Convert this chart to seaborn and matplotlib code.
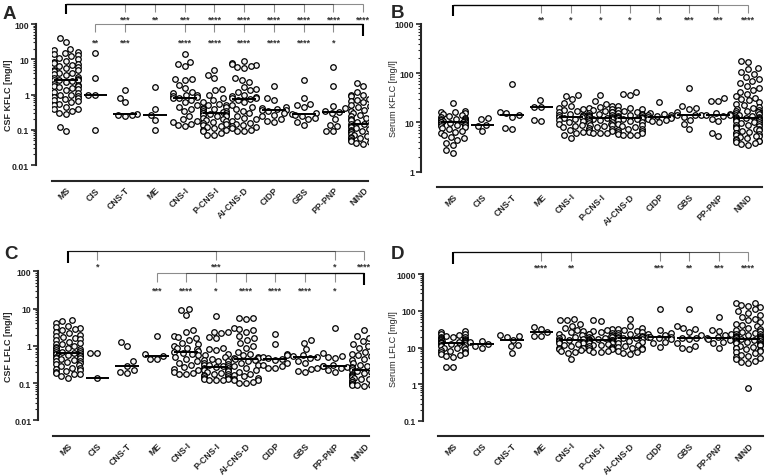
import warnings
warnings.filterwarnings('ignore')
import numpy as np
import pandas as pd
import matplotlib
matplotlib.use('Agg')
import matplotlib.pyplot as plt
import matplotlib.transforms as mtransforms
from matplotlib.ticker import LogLocator, NullFormatter
import seaborn as sns

# ---------------- data ----------------
categories = ['MS', 'CIS', 'CNS-T', 'ME', 'CNS-I', 'P-CNS-I', 'AI-CNS-D',
              'CIDP', 'GBS', 'PP-PNP', 'NIND']

# Panel A: CSF KFLC [mg/l]
A_MS = [40, 30, 20, 18, 16, 15, 14, 13, 12, 11, 10, 9, 8.5, 8, 7.5, 7, 6.5, 6, 5.5, 5,
        4.8, 4.5, 4.2, 4, 3.7, 3.5, 3.2, 3, 2.8, 2.6, 2.5, 2.5, 2.4, 2.2, 2, 1.9, 1.8, 1.7,
        1.6, 1.5, 1.4, 1.3, 1.2, 1.1, 1.0, 0.95, 0.9, 0.85, 0.8, 0.75, 0.7, 0.65, 0.6,
        0.55, 0.5, 0.45, 0.4, 0.4, 0.35, 0.3, 0.28, 0.12, 0.09]
A_CIS = [15, 3, 1.0, 1.0, 0.1]
A_CNST = [1.35, 0.8, 0.6, 0.28, 0.27, 0.26, 0.25]
A_ME = [1.6, 0.38, 0.27, 0.19, 0.1]
A_CNSI = [14, 8.5, 7.5, 6.5, 2.8, 2.7, 2.6, 1.9, 1.5, 1.2, 1.1, 1.0, 0.95, 0.9, 0.85, 0.82,
          0.8, 0.7, 0.6, 0.5, 0.45, 0.4, 0.35, 0.25, 0.2, 0.18, 0.17, 0.15, 0.14, 0.13]
A_PCNSI = [5, 3.5, 3, 1.4, 1.3, 1.0, 0.8, 0.7, 0.6, 0.55, 0.5, 0.5, 0.45, 0.42, 0.4, 0.38,
           0.35, 0.33, 0.32, 0.3, 0.3, 0.29, 0.28, 0.27, 0.26, 0.25, 0.24, 0.22, 0.2, 0.19,
           0.18, 0.17, 0.16, 0.15, 0.14, 0.13, 0.12, 0.11, 0.1, 0.1, 0.09, 0.08, 0.07, 0.07]
A_AICNSD = [9, 8, 7.5, 7, 6.5, 6, 5.5, 3, 2.5, 2.2, 1.6, 1.4, 1.3, 1.2, 1.0, 0.9, 0.85,
            0.8, 0.78, 0.76, 0.7, 0.6, 0.5, 0.45, 0.4, 0.35, 0.3, 0.25, 0.22, 0.2, 0.18,
            0.16, 0.15, 0.14, 0.13, 0.12, 0.11, 0.1, 0.09, 0.09]
A_CIDP = [1.75, 0.8, 0.7, 0.45, 0.42, 0.4, 0.37, 0.36, 0.34, 0.3, 0.27, 0.25, 0.2, 0.18, 0.17]
A_GBS = [2.5, 0.78, 0.55, 0.5, 0.45, 0.3, 0.28, 0.27, 0.25, 0.22, 0.2, 0.17, 0.14]
A_PPPNP = [6, 1.75, 0.48, 0.42, 0.33, 0.32, 0.3, 0.2, 0.14, 0.13, 0.09, 0.09]
A_NIND = [2.1, 1.8, 1.3, 1.2, 1.1, 1.0, 0.95, 0.9, 0.8, 0.75, 0.7, 0.65, 0.6, 0.55, 0.5,
          0.47, 0.44, 0.4, 0.37, 0.34, 0.32, 0.3, 0.28, 0.26, 0.24, 0.22, 0.21, 0.2, 0.19,
          0.18, 0.17, 0.16, 0.15, 0.145, 0.14, 0.135, 0.13, 0.125, 0.12, 0.115, 0.11, 0.105,
          0.1, 0.097, 0.094, 0.09, 0.087, 0.084, 0.08, 0.077, 0.074, 0.071, 0.068, 0.065,
          0.062, 0.06, 0.058, 0.055, 0.053, 0.05, 0.048, 0.046, 0.044, 0.042, 0.04]
A_medians = [2.5, 1.0, 0.28, 0.27, 0.82, 0.29, 0.76, 0.36, 0.28, 0.32, 0.15]

# Panel B: Serum KFLC [mg/l]
B_MS = [25, 17, 16.5, 16, 15.5, 15, 14, 13.5, 13, 12.5, 12, 12, 11.5, 11, 11, 10.8, 10.5,
        10.3, 10.2, 10.1, 10, 9.8, 9.5, 9.2, 9, 8.7, 8.4, 8, 7.6, 7.2, 6.8, 6.4, 6, 5.5,
        5, 4.8, 4.5, 3.8, 3.5, 2.7, 2.4]
B_CIS = [12.6, 11.5, 8.9, 8.6, 6.7]
B_CNST = [60, 16.4, 15.5, 14.3, 13.2, 7.8, 7.3]
B_ME = [28, 21, 20.5, 11, 10.8]
B_CNSI = [36, 35, 30, 25, 22, 20, 19, 18, 17, 16, 15, 14.5, 14, 13.5, 13.2, 13, 12.5, 12,
          11, 10.5, 10, 9.5, 9, 8.5, 8, 7, 6.5, 6, 5.5, 4.8]
B_PCNSI = [36, 27, 24, 22, 21, 20, 19, 18, 17, 16.5, 16, 15.5, 15, 14.5, 14, 13.5, 13, 12.8,
           12.5, 12.2, 12, 11.8, 11.5, 11, 10.5, 10, 9.8, 9.5, 9, 8.7, 8.4, 8, 7.7, 7.4, 7,
           6.8, 6.5, 6.2, 6, 6]
B_AICNSD = [42, 37, 36, 22, 20, 19, 18, 17, 16, 15.5, 15, 14.5, 14, 13.5, 13, 12.8, 12.6,
            12.4, 12.3, 12.2, 12.1, 12, 11.5, 11, 10.5, 10, 9.5, 9, 8.5, 8, 7.5, 7.2, 7, 6.6,
            6.3, 6, 5.8, 5.6, 5.5, 5.5]
B_CIDP = [26, 15.5, 15, 14.5, 14, 13.5, 13.2, 13, 12.5, 12, 11, 10.5, 10]
B_GBS = [50, 22, 20, 19, 16, 14.5, 14.1, 14, 13, 11, 9.3, 7.4]
B_PPPNP = [32, 27, 27, 15.5, 15, 14.5, 14, 13.5, 12, 10.5, 6, 5.3]
B_NIND = [175, 170, 125, 120, 105, 95, 85, 75, 70, 62, 56, 50, 46, 42, 38, 35, 32, 30, 28,
          26, 24, 22.5, 21, 20, 19, 18, 17.5, 17, 16.5, 16, 15.5, 15, 14.5, 14, 13.5, 13,
          12.8, 12.6, 12.4, 12.2, 12, 11.7, 11.4, 11, 10.7, 10.4, 10, 9.7, 9.4, 9, 8.7, 8.4,
          8.1, 7.8, 7.5, 7.2, 7, 6.8, 6.5, 6.2, 6, 5.8, 5.6, 5.4, 5.2, 5, 4.8, 4.6, 4.4, 4.3,
          4.2, 4, 3.8, 3.6, 3.5]
B_medians = [10, 8.9, 14.3, 20.5, 13.2, 12.1, 12.2, 13.2, 14.1, 14.1, 12.6]

# Panel C: CSF LFLC [mg/l]
C_MS = [4.8, 4.6, 4, 3.5, 3.2, 3, 2.8, 2.6, 2.4, 2.2, 2, 1.8, 1.7, 1.6, 1.5, 1.4, 1.3, 1.2,
        1.15, 1.1, 1.0, 0.95, 0.9, 0.85, 0.8, 0.76, 0.73, 0.7, 0.68, 0.66, 0.64, 0.62, 0.6,
        0.57, 0.55, 0.52, 0.5, 0.48, 0.46, 0.44, 0.42, 0.4, 0.38, 0.36, 0.34, 0.32, 0.3,
        0.28, 0.26, 0.25, 0.24, 0.22, 0.21, 0.2, 0.19, 0.18, 0.17, 0.15, 0.14]
C_CIS = [0.65, 0.64, 0.14]
C_CNST = [1.3, 1.0, 0.38, 0.29, 0.22, 0.2, 0.19]
C_ME = [1.8, 0.6, 0.54, 0.45, 0.44]
C_CNSI = [10, 9, 6.8, 2.7, 2.4, 1.8, 1.7, 1.6, 1.4, 1.2, 1.1, 1.0, 0.9, 0.85, 0.8, 0.72, 0.7,
          0.65, 0.6, 0.55, 0.5, 0.45, 0.4, 0.35, 0.3, 0.27, 0.24, 0.22, 0.2, 0.19, 0.18, 0.18]
C_PCNSI = [6.2, 2.4, 2.3, 2.2, 1.7, 1.6, 0.85, 0.8, 0.75, 0.6, 0.55, 0.5, 0.45, 0.42, 0.4,
           0.38, 0.35, 0.33, 0.31, 0.3, 0.29, 0.28, 0.27, 0.26, 0.25, 0.24, 0.23, 0.22, 0.21,
           0.2, 0.19, 0.18, 0.17, 0.16, 0.15, 0.15, 0.14, 0.14, 0.13, 0.13, 0.12, 0.12, 0.12]
C_AICNSD = [5.7, 5.5, 5.3, 3, 2.8, 2.6, 2.4, 1.8, 1.6, 1.4, 1.2, 1.0, 0.9, 0.7, 0.6, 0.55,
            0.5, 0.48, 0.46, 0.44, 0.42, 0.4, 0.35, 0.3, 0.28, 0.25, 0.22, 0.2, 0.18, 0.16,
            0.15, 0.14, 0.13, 0.12, 0.12, 0.11, 0.1, 0.1]
C_CIDP = [2.1, 1.1, 0.6, 0.58, 0.5, 0.46, 0.44, 0.42, 0.35, 0.3, 0.28, 0.26, 0.25]
C_GBS = [1.4, 1.2, 0.8, 0.55, 0.52, 0.5, 0.48, 0.4, 0.35, 0.25, 0.24, 0.21, 0.2]
C_PPPNP = [3, 0.65, 0.52, 0.5, 0.48, 0.3, 0.29, 0.28, 0.27, 0.25, 0.22, 0.2]
C_NIND = [2.6, 2, 1.8, 1.6, 1.5, 1.35, 1.2, 1.1, 1.0, 0.9, 0.82, 0.75, 0.68, 0.62, 0.56,
          0.52, 0.48, 0.44, 0.41, 0.38, 0.35, 0.33, 0.31, 0.29, 0.28, 0.27, 0.26, 0.25, 0.24,
          0.23, 0.21, 0.205, 0.2, 0.19, 0.18, 0.175, 0.17, 0.165, 0.16, 0.155, 0.15, 0.145,
          0.14, 0.135, 0.13, 0.125, 0.12, 0.115, 0.11, 0.107, 0.104, 0.1, 0.097, 0.095,
          0.093, 0.09, 0.088, 0.087, 0.086, 0.085]
C_medians = [0.66, 0.14, 0.29, 0.54, 0.7, 0.27, 0.44, 0.44, 0.5, 0.29, 0.22]

# Panel D: Serum LFLC [mg/l]
D_MS = [28, 26, 24, 23, 22, 21, 20, 19.5, 19, 18, 17.5, 17, 16.5, 16, 15.5, 15, 14.8, 14.6,
        14.4, 14.2, 14, 13.8, 13.7, 13.5, 13.2, 13, 12.5, 12, 11.5, 11, 10.5, 10, 9.5, 9,
        8.6, 8.2, 7.8, 7.4, 7, 6.6, 6.2, 5.8, 5.5, 3, 2.9]
D_CIS = [15.5, 14, 12.5, 11, 10]
D_CNST = [22, 21, 20, 16.5, 12, 11, 7.2]
D_ME = [37, 33, 27, 21, 20.5]
D_CNSI = [60, 57, 55, 45, 40, 35, 30, 28, 26, 24, 22, 20, 19, 18, 17, 16.5, 16, 15, 14, 13.5,
          13, 12.5, 12, 11, 10, 9.5, 9, 8.5, 8, 7.5, 7, 4.8]
D_PCNSI = [55, 54, 32, 30, 28, 26, 25, 24, 23, 22, 21, 20, 19, 18.5, 18, 17.5, 17, 16.5,
           16.3, 16.2, 16, 15.5, 15, 14.5, 14, 13.5, 13, 12.5, 12, 11.5, 11, 10.5, 10, 9.5,
           9, 8.5, 8, 7.8, 7.5]
D_AICNSD = [62, 38, 35, 32, 30, 28, 27, 25, 24, 22, 21, 20, 19.5, 19, 18.7, 18.5, 18, 17,
            16, 15, 14, 13, 12, 11, 10.5, 10, 9.5, 9, 8, 7.5, 7, 6.6]
D_CIDP = [115, 30, 25, 24, 22, 20, 19.5, 19, 18, 17, 14, 13, 10.5]
D_GBS = [110, 38, 34, 33, 27, 22, 18.7, 18, 17, 13, 11, 10, 9]
D_PPPNP = [68, 30, 29, 24, 22, 19, 18, 17.5, 16, 14, 13, 10]
D_NIND = [170, 160, 150, 140, 125, 110, 100, 90, 80, 70, 62, 56, 50, 45, 41, 38, 35, 32, 30,
          28, 26, 25, 24, 23, 22, 21, 20.5, 20, 19.5, 19, 18.5, 18, 17.6, 17.2, 16.8, 16.4,
          16, 15.6, 15.2, 14.8, 14.4, 14, 13.5, 13, 12.5, 12, 11.5, 11, 10.5, 10, 9.5, 9,
          8.5, 8, 7.5, 7, 6.5, 6, 5.6, 5.2, 4.8, 4.4, 4, 3.8, 0.8]
D_medians = [13.7, 12.8, 16.5, 27, 16.5, 16.2, 18.7, 19.5, 18.7, 18, 17.6]

# tick labels
A_yticks = [0.01, 0.1, 1, 10, 100]
A_yticklabels = ['0.01', '0.1', '1', '10', '100']
B_yticks = [1, 10, 100, 1000]
B_yticklabels = ['1', '10', '100', '1000']
C_yticks = [0.01, 0.1, 1, 10, 100]
C_yticklabels = ['0.01', '0.1', '1', '10', '100']
D_yticks = [0.1, 1, 10, 100, 1000]
D_yticklabels = ['0.1', '1', '10', '100', '1000']

# significance comparisons (target category index, label)
A_sig_ms_targets = [2, 3, 4, 5, 6, 7, 8, 9, 10]
A_sig_ms_labels = ['***', '**', '***', '****', '****', '****', '****', '****', '****']
A_sig_nind_targets = [1, 2, 4, 5, 6, 7, 8, 9]
A_sig_nind_labels = ['**', '***', '****', '****', '****', '****', '****', '*']
B_sig_ms_targets = [3, 4, 5, 6, 7, 8, 9, 10]
B_sig_ms_labels = ['**', '*', '*', '*', '**', '***', '***', '****']
C_sig_ms_targets = [1, 5, 9, 10]
C_sig_ms_labels = ['*', '***', '*', '****']
C_sig_nind_targets = [3, 4, 5, 6, 7, 8, 9]
C_sig_nind_labels = ['***', '****', '*', '****', '****', '****', '*']
D_sig_ms_targets = [3, 4, 7, 8, 9, 10]
D_sig_ms_labels = ['****', '**', '***', '**', '***', '****']

# ---------------- figure ----------------
W, H = 765, 477
sns.set_style('ticks')
plt.rcParams['font.family'] = ['Liberation Sans', 'DejaVu Sans']
fig = plt.figure(figsize=(W / 100, H / 100), dpi=100)


def make_df(groups):
    rows = []
    for cat, vals in zip(categories, groups):
        for v in vals:
            rows.append((cat, v))
    return pd.DataFrame(rows, columns=['group', 'value'])


panels = [
    dict(groups=[A_MS, A_CIS, A_CNST, A_ME, A_CNSI, A_PCNSI, A_AICNSD, A_CIDP, A_GBS, A_PPPNP, A_NIND],
         medians=A_medians, yticks=A_yticks, yticklabels=A_yticklabels,
         ylabel='CSF KFLC [mg/l]', ybold=True, letter='A',
         box=(51.7, 367.7, 25, 166), xlim=(-0.47, 10.15), loff=15.7, boff=16.0,
         letter_xy=(3, 19), ylabel_x=13,
         brackets=[(0, A_sig_ms_targets, A_sig_ms_labels, 5, 13, 15, 20.5),
                   (10, A_sig_nind_targets, A_sig_nind_labels, 25, 33, 37, 43)]),
    dict(groups=[B_MS, B_CIS, B_CNST, B_ME, B_CNSI, B_PCNSI, B_AICNSD, B_CIDP, B_GBS, B_PPPNP, B_NIND],
         medians=B_medians, yticks=B_yticks, yticklabels=B_yticklabels,
         ylabel='Serum KFLC [mg/l]', ybold=False, letter='B',
         box=(436.7, 761.7, 25, 172.7), xlim=(-0.553, 10.475), loff=15.7, boff=15.6,
         letter_xy=(391, 18), ylabel_x=398,
         brackets=[(0, B_sig_ms_targets, B_sig_ms_labels, 5.7, 14, 17, 20.5)]),
    dict(groups=[C_MS, C_CIS, C_CNST, C_ME, C_CNSI, C_PCNSI, C_AICNSD, C_CIDP, C_GBS, C_PPPNP, C_NIND],
         medians=C_medians, yticks=C_yticks, yticklabels=C_yticklabels,
         ylabel='CSF LFLC [mg/l]', ybold=True, letter='C',
         box=(53.3, 369.0, 272.3, 421.3), xlim=(-0.486, 10.158), loff=15.0, boff=16.0,
         letter_xy=(4, 259), ylabel_x=13,
         brackets=[(0, C_sig_ms_targets, C_sig_ms_labels, 252.3, 261, 264, 267.5),
                   (10, C_sig_nind_targets, C_sig_nind_labels, 274, 283, 286, 291)]),
    dict(groups=[D_MS, D_CIS, D_CNST, D_ME, D_CNSI, D_PCNSI, D_AICNSD, D_CIDP, D_GBS, D_PPPNP, D_NIND],
         medians=D_medians, yticks=D_yticks, yticklabels=D_yticklabels,
         ylabel='Serum LFLC [mg/l]', ybold=False, letter='D',
         box=(438.3, 762.7, 275.3, 422.0), xlim=(-0.487, 10.487), loff=15.0, boff=15.3,
         letter_xy=(391, 259), ylabel_x=398,
         brackets=[(0, D_sig_ms_targets, D_sig_ms_labels, 253, 262, 265, 268.5)]),
]

PX2PT = 0.72

for p in panels:
    left, right, top, bottom = p['box']
    ax = fig.add_axes([left / W, 1 - bottom / H, (right - left) / W, (bottom - top) / H])
    df = make_df(p['groups'])
    sns.swarmplot(data=df, x='group', y='value', order=categories, ax=ax,
                  log_scale=True, size=4.0, color='#f4f4f4', edgecolor='black',
                  linewidth=0.9, zorder=3)
    ax.set_yscale('log')
    ylo, yhi = p['yticks'][0], p['yticks'][-1]
    ax.set_ylim(ylo, yhi)
    ax.set_xlim(*p['xlim'])

    # medians
    xs = np.arange(len(categories))
    ax.hlines(p['medians'], xs - 0.4, xs + 0.4, color='black', lw=1.4, zorder=6)

    # axes styling
    for s in ['top', 'right']:
        ax.spines[s].set_visible(False)
    ax.spines['left'].set_position(('outward', p['loff'] * PX2PT))
    ax.spines['bottom'].set_position(('outward', p['boff'] * PX2PT))
    ax.spines['left'].set_linewidth(1.5)
    ax.spines['bottom'].set_linewidth(1.5)
    ax.set_yticks(p['yticks'])
    ax.set_yticklabels(p['yticklabels'], fontweight='bold', fontsize=6.3)
    ax.yaxis.set_minor_locator(LogLocator(base=10, subs=np.arange(2, 10)))
    ax.yaxis.set_minor_formatter(NullFormatter())
    ax.tick_params(axis='y', which='major', length=3.5, width=1.2, pad=1.5)
    ax.tick_params(axis='y', which='minor', length=2.0, width=0.8)
    ax.set_xticks(xs)
    ax.set_xticklabels(categories, rotation=45, ha='right', rotation_mode='anchor',
                       fontweight='bold', fontsize=6.3)
    ax.tick_params(axis='x', length=0, pad=3)
    ax.set_xlabel('')
    ax.set_ylabel(p['ylabel'], fontsize=6.5,
                  fontweight='bold' if p['ybold'] else 'normal')
    ax.yaxis.set_label_coords((p['ylabel_x'] - left) / (right - left), 0.5)
    ax.set_facecolor('none')

    # significance brackets
    trans = mtransforms.blended_transform_factory(ax.transData, ax.transAxes)

    def fy(ypx):
        return (bottom - ypx) / (bottom - top)

    for ref, targets, labels, yl, yt, yr, ys in p['brackets']:
        for t, lab in zip(targets, labels):
            ax.plot([ref, t], [fy(yl), fy(yl)], transform=trans, color='black',
                    alpha=0.45, lw=0.8, clip_on=False, solid_capstyle='butt')
            ax.plot([t, t], [fy(yl), fy(yt)], transform=trans, color='black',
                    alpha=0.45, lw=0.8, clip_on=False, solid_capstyle='butt')
            ax.text(t, fy(ys), lab, transform=trans, ha='center', va='center',
                    fontsize=6.5, fontweight='bold', color='#333333', clip_on=False)
        ax.plot([ref, ref], [fy(yl), fy(yr)], transform=trans, color='black',
                lw=1.5, clip_on=False, solid_capstyle='butt')
    ax.set_xlim(*p['xlim'])

    lx, ly = p['letter_xy']
    fig.text(lx / W, 1 - ly / H, p['letter'], fontsize=13.5, fontweight='bold',
             ha='left', va='baseline')

fig.savefig('out.png', dpi=100)
